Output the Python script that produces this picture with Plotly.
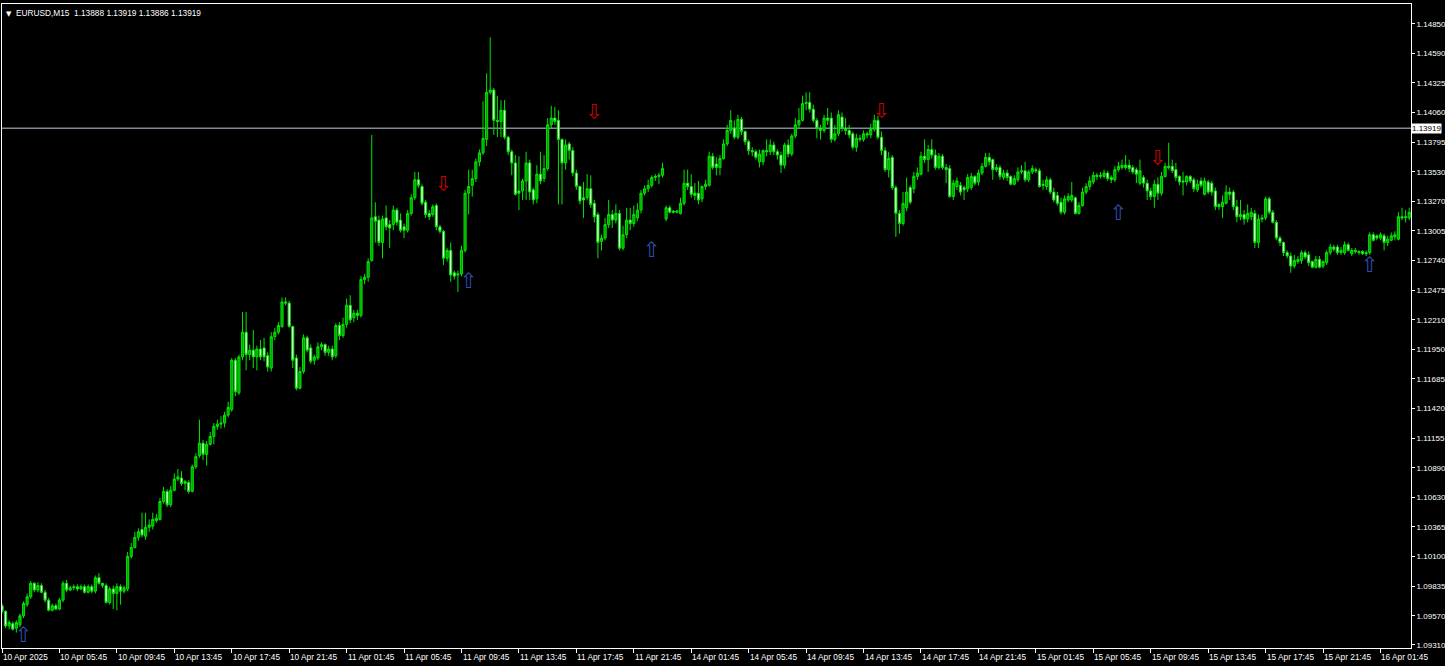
import plotly.graph_objects as go

# ---------------- data (EURUSD M15) ----------------
SYMBOL = "EURUSD,M15"
LAST_BAR = ["1.13888", "1.13919", "1.13886", "1.13919"]
BID = 1.13919

OPEN = [
    1.0966,1.0961,1.0948,1.0950,1.0946,1.0949,1.0957,1.0967,1.0974,1.0986,
    1.0980,1.0984,1.0978,1.0971,1.0962,1.0966,1.0963,1.0971,1.0986,1.0980,
    1.0982,1.0983,1.0981,1.0983,1.0978,1.0983,1.0979,1.0991,1.0986,1.0984,
    1.0969,1.0981,1.0977,1.0983,1.0979,1.0981,1.1010,1.1018,1.1027,1.1034,
    1.1028,1.1036,1.1037,1.1042,1.1043,1.1059,1.1068,1.1056,1.1069,1.1079,
    1.1080,1.1075,1.1076,1.1068,1.1090,1.1100,1.1111,1.1101,1.1110,1.1117,
    1.1126,1.1128,1.1129,1.1136,1.1141,1.1185,1.1156,1.1188,1.1210,1.1190,
    1.1194,1.1188,1.1195,1.1196,1.1189,1.1178,1.1206,1.1210,1.1215,1.1237,
    1.1236,1.1215,1.1187,1.1160,1.1175,1.1205,1.1196,1.1185,1.1187,1.1197,
    1.1199,1.1192,1.1195,1.1189,1.1216,1.1207,1.1217,1.1234,1.1223,1.1227,
    1.1225,1.1257,1.1259,1.1274,1.1313,1.1310,1.1290,1.1312,1.1306,1.1306,
    1.1319,1.1310,1.1304,1.1301,1.1316,1.1330,1.1346,1.1340,1.1326,1.1316,
    1.1315,1.1323,1.1304,1.1300,1.1276,1.1283,1.1263,1.1261,1.1262,1.1283,
    1.1334,1.1341,1.1347,1.1362,1.1370,1.1382,1.1424,1.1426,1.1399,1.1398,
    1.1408,1.1384,1.1371,1.1361,1.1336,1.1336,1.1345,1.1361,1.1337,1.1329,
    1.1351,1.1347,1.1356,1.1395,1.1401,1.1399,1.1382,1.1361,1.1378,1.1372,
    1.1352,1.1340,1.1330,1.1330,1.1338,1.1325,1.1315,1.1291,1.1294,1.1306,
    1.1315,1.1310,1.1316,1.1285,1.1297,1.1310,1.1307,1.1312,1.1319,1.1334,
    1.1338,1.1341,1.1348,1.1349,1.1350,1.1311,1.1321,1.1318,1.1317,1.1316,
    1.1325,1.1343,1.1340,1.1334,1.1334,1.1329,1.1340,1.1341,1.1367,1.1360,
    1.1357,1.1365,1.1378,1.1390,1.1392,1.1384,1.1400,1.1389,1.1380,1.1372,
    1.1371,1.1362,1.1362,1.1372,1.1371,1.1377,1.1371,1.1368,1.1359,1.1377,
    1.1369,1.1385,1.1395,1.1399,1.1414,1.1415,1.1409,1.1399,1.1392,1.1390,
    1.1401,1.1401,1.1382,1.1387,1.1402,1.1392,1.1390,1.1387,1.1375,1.1383,
    1.1382,1.1387,1.1386,1.1391,1.1399,1.1384,1.1372,1.1355,1.1366,1.1339,
    1.1316,1.1307,1.1321,1.1339,1.1338,1.1349,1.1351,1.1367,1.1364,1.1373,
    1.1368,1.1357,1.1367,1.1357,1.1356,1.1331,1.1340,1.1341,1.1339,1.1338,
    1.1339,1.1349,1.1344,1.1352,1.1358,1.1366,1.1364,1.1355,1.1357,1.1348,
    1.1352,1.1349,1.1342,1.1346,1.1353,1.1354,1.1346,1.1353,1.1355,1.1354,
    1.1342,1.1340,1.1346,1.1335,1.1332,1.1326,1.1317,1.1328,1.1328,1.1330,
    1.1316,1.1323,1.1335,1.1340,1.1344,1.1350,1.1349,1.1349,1.1352,1.1348,
    1.1346,1.1355,1.1357,1.1359,1.1359,1.1357,1.1355,1.1343,1.1348,1.1343,
    1.1336,1.1331,1.1342,1.1334,1.1349,1.1358,1.1358,1.1355,1.1349,1.1345,
    1.1344,1.1349,1.1346,1.1337,1.1345,1.1333,1.1344,1.1343,1.1336,1.1324,
    1.1322,1.1325,1.1335,1.1335,1.1322,1.1313,1.1315,1.1311,1.1313,1.1316,
    1.1290,1.1312,1.1312,1.1329,1.1317,1.1308,1.1294,1.1290,1.1281,1.1278,
    1.1269,1.1273,1.1274,1.1281,1.1279,1.1273,1.1268,1.1275,1.1269,1.1272,
    1.1281,1.1286,1.1286,1.1281,1.1281,1.1288,1.1280,1.1283,1.1282,1.1282,
    1.1281,1.1281,1.1297,1.1296,1.1294,1.1296,1.1290,1.1292,1.1295,1.1293,
    1.1313,1.1312,1.1312,
]

HIGH = [
    1.0968,1.0962,1.0953,1.0952,1.0953,1.0959,1.0970,1.0977,1.0988,1.0987,
    1.0987,1.0986,1.0980,1.0973,1.0968,1.0968,1.0973,1.0988,1.0989,1.0984,
    1.0985,1.0985,1.0985,1.0985,1.0985,1.0985,1.0993,1.0995,1.0986,1.0986,
    1.0983,1.0984,1.0986,1.0985,1.0984,1.1014,1.1022,1.1032,1.1035,1.1049,
    1.1049,1.1043,1.1049,1.1048,1.1062,1.1072,1.1070,1.1073,1.1084,1.1088,
    1.1086,1.1078,1.1078,1.1092,1.1102,1.1132,1.1114,1.1113,1.1121,1.1129,
    1.1132,1.1135,1.1139,1.1148,1.1187,1.1187,1.1190,1.1228,1.1228,1.1199,
    1.1212,1.1198,1.1203,1.1205,1.1192,1.1210,1.1214,1.1219,1.1241,1.1241,
    1.1238,1.1216,1.1190,1.1179,1.1208,1.1207,1.1199,1.1190,1.1201,1.1201,
    1.1200,1.1198,1.1198,1.1218,1.1219,1.1223,1.1240,1.1243,1.1230,1.1230,
    1.1260,1.1262,1.1276,1.1386,1.1326,1.1314,1.1314,1.1323,1.1310,1.1323,
    1.1321,1.1316,1.1307,1.1319,1.1333,1.1353,1.1353,1.1342,1.1328,1.1319,
    1.1324,1.1325,1.1306,1.1301,1.1285,1.1290,1.1265,1.1265,1.1287,1.1337,
    1.1355,1.1355,1.1365,1.1373,1.1416,1.1441,1.1473,1.1428,1.1421,1.1417,
    1.1417,1.1385,1.1373,1.1368,1.1367,1.1347,1.1371,1.1364,1.1339,1.1359,
    1.1371,1.1368,1.1401,1.1412,1.1411,1.1408,1.1383,1.1382,1.1380,1.1375,
    1.1355,1.1341,1.1344,1.1351,1.1350,1.1328,1.1317,1.1297,1.1312,1.1328,
    1.1319,1.1324,1.1319,1.1305,1.1321,1.1321,1.1323,1.1325,1.1337,1.1341,
    1.1346,1.1350,1.1351,1.1352,1.1361,1.1323,1.1323,1.1319,1.1319,1.1330,
    1.1355,1.1355,1.1351,1.1343,1.1345,1.1341,1.1346,1.1371,1.1370,1.1366,
    1.1368,1.1382,1.1395,1.1408,1.1399,1.1404,1.1402,1.1390,1.1382,1.1375,
    1.1373,1.1373,1.1373,1.1382,1.1382,1.1380,1.1373,1.1371,1.1379,1.1382,
    1.1387,1.1401,1.1410,1.1421,1.1424,1.1424,1.1413,1.1401,1.1395,1.1404,
    1.1410,1.1406,1.1395,1.1408,1.1406,1.1401,1.1395,1.1389,1.1387,1.1386,
    1.1390,1.1389,1.1396,1.1404,1.1403,1.1389,1.1375,1.1371,1.1368,1.1341,
    1.1319,1.1335,1.1348,1.1341,1.1353,1.1357,1.1371,1.1382,1.1377,1.1382,
    1.1373,1.1370,1.1369,1.1360,1.1359,1.1346,1.1348,1.1344,1.1341,1.1351,
    1.1352,1.1350,1.1355,1.1361,1.1370,1.1370,1.1365,1.1360,1.1359,1.1355,
    1.1355,1.1350,1.1350,1.1357,1.1359,1.1362,1.1355,1.1359,1.1357,1.1356,
    1.1346,1.1349,1.1348,1.1339,1.1335,1.1330,1.1332,1.1334,1.1344,1.1331,
    1.1326,1.1339,1.1343,1.1349,1.1353,1.1352,1.1353,1.1355,1.1354,1.1350,
    1.1358,1.1362,1.1364,1.1368,1.1364,1.1359,1.1357,1.1364,1.1350,1.1346,
    1.1339,1.1346,1.1348,1.1353,1.1361,1.1379,1.1364,1.1361,1.1350,1.1353,
    1.1350,1.1350,1.1348,1.1346,1.1348,1.1348,1.1346,1.1345,1.1339,1.1325,
    1.1332,1.1341,1.1339,1.1337,1.1328,1.1328,1.1319,1.1324,1.1321,1.1319,
    1.1315,1.1315,1.1331,1.1331,1.1319,1.1310,1.1296,1.1291,1.1283,1.1281,
    1.1279,1.1278,1.1283,1.1283,1.1282,1.1274,1.1278,1.1278,1.1274,1.1283,
    1.1289,1.1288,1.1288,1.1286,1.1291,1.1290,1.1285,1.1285,1.1283,1.1283,
    1.1283,1.1299,1.1299,1.1297,1.1299,1.1298,1.1296,1.1299,1.1300,1.1317,
    1.1321,1.1319,1.1321,
]

LOW = [
    1.0959,1.0946,1.0945,1.0944,1.0942,1.0947,1.0955,1.0965,1.0972,1.0978,
    1.0978,1.0977,1.0969,1.0961,1.0961,1.0962,1.0962,1.0969,1.0978,1.0979,
    1.0980,1.0979,1.0980,1.0977,1.0977,1.0977,1.0977,1.0985,1.0982,1.0968,
    1.0967,1.0963,1.0962,1.0967,1.0977,1.0979,1.1008,1.1017,1.1024,1.1027,
    1.1025,1.1032,1.1034,1.1040,1.1042,1.1057,1.1054,1.1054,1.1068,1.1077,
    1.1073,1.1069,1.1066,1.1067,1.1088,1.1098,1.1096,1.1091,1.1109,1.1110,
    1.1123,1.1124,1.1125,1.1134,1.1139,1.1153,1.1154,1.1185,1.1176,1.1185,
    1.1178,1.1176,1.1185,1.1184,1.1175,1.1175,1.1203,1.1208,1.1214,1.1234,
    1.1214,1.1178,1.1158,1.1159,1.1173,1.1192,1.1182,1.1181,1.1185,1.1194,
    1.1189,1.1189,1.1185,1.1187,1.1203,1.1205,1.1214,1.1218,1.1219,1.1221,
    1.1223,1.1253,1.1255,1.1273,1.1290,1.1287,1.1276,1.1301,1.1285,1.1301,
    1.1305,1.1299,1.1294,1.1299,1.1314,1.1328,1.1339,1.1323,1.1312,1.1310,
    1.1313,1.1301,1.1298,1.1270,1.1273,1.1255,1.1257,1.1246,1.1260,1.1281,
    1.1315,1.1331,1.1344,1.1358,1.1368,1.1376,1.1422,1.1386,1.1384,1.1384,
    1.1382,1.1368,1.1350,1.1332,1.1319,1.1328,1.1328,1.1328,1.1324,1.1325,
    1.1342,1.1344,1.1354,1.1392,1.1395,1.1324,1.1324,1.1355,1.1364,1.1349,
    1.1337,1.1324,1.1312,1.1328,1.1321,1.1308,1.1276,1.1283,1.1292,1.1303,
    1.1303,1.1307,1.1283,1.1283,1.1294,1.1301,1.1304,1.1309,1.1316,1.1332,
    1.1335,1.1339,1.1345,1.1342,1.1348,1.1309,1.1316,1.1316,1.1316,1.1315,
    1.1323,1.1337,1.1330,1.1328,1.1324,1.1326,1.1337,1.1340,1.1355,1.1350,
    1.1350,1.1364,1.1376,1.1387,1.1382,1.1382,1.1386,1.1377,1.1368,1.1367,
    1.1364,1.1357,1.1359,1.1367,1.1368,1.1368,1.1364,1.1352,1.1356,1.1366,
    1.1367,1.1383,1.1392,1.1398,1.1408,1.1406,1.1397,1.1383,1.1382,1.1388,
    1.1395,1.1379,1.1380,1.1385,1.1389,1.1386,1.1383,1.1373,1.1371,1.1380,
    1.1380,1.1383,1.1383,1.1389,1.1382,1.1368,1.1353,1.1348,1.1337,1.1295,
    1.1298,1.1305,1.1318,1.1324,1.1334,1.1346,1.1350,1.1361,1.1353,1.1365,
    1.1355,1.1355,1.1355,1.1343,1.1330,1.1328,1.1337,1.1332,1.1328,1.1335,
    1.1337,1.1341,1.1341,1.1350,1.1357,1.1359,1.1346,1.1353,1.1346,1.1346,
    1.1345,1.1341,1.1341,1.1344,1.1351,1.1344,1.1344,1.1351,1.1352,1.1339,
    1.1337,1.1337,1.1333,1.1326,1.1323,1.1315,1.1315,1.1326,1.1326,1.1315,
    1.1315,1.1322,1.1333,1.1337,1.1342,1.1346,1.1347,1.1347,1.1345,1.1343,
    1.1344,1.1353,1.1355,1.1355,1.1353,1.1351,1.1343,1.1341,1.1339,1.1328,
    1.1328,1.1321,1.1328,1.1332,1.1348,1.1355,1.1352,1.1345,1.1341,1.1332,
    1.1341,1.1343,1.1335,1.1335,1.1339,1.1332,1.1333,1.1332,1.1319,1.1319,
    1.1312,1.1324,1.1328,1.1319,1.1308,1.1310,1.1306,1.1308,1.1310,1.1285,
    1.1285,1.1308,1.1310,1.1315,1.1307,1.1292,1.1287,1.1278,1.1276,1.1263,
    1.1267,1.1271,1.1271,1.1275,1.1269,1.1267,1.1267,1.1267,1.1267,1.1270,
    1.1279,1.1282,1.1279,1.1279,1.1279,1.1282,1.1278,1.1280,1.1279,1.1279,
    1.1278,1.1279,1.1291,1.1292,1.1292,1.1283,1.1287,1.1291,1.1292,1.1292,
    1.1310,1.1308,1.1310,
]

CLOSE = [
    1.0961,1.0948,1.0951,1.0945,1.0951,1.0957,1.0968,1.0974,1.0986,1.0980,
    1.0984,1.0978,1.0971,1.0962,1.0966,1.0963,1.0971,1.0986,1.0980,1.0982,
    1.0983,1.0981,1.0983,1.0978,1.0983,1.0979,1.0991,1.0986,1.0984,1.0969,
    1.0981,1.0977,1.0983,1.0979,1.0982,1.1010,1.1018,1.1027,1.1032,1.1029,
    1.1036,1.1038,1.1043,1.1044,1.1059,1.1068,1.1056,1.1069,1.1079,1.1081,
    1.1075,1.1077,1.1068,1.1090,1.1099,1.1111,1.1101,1.1110,1.1117,1.1126,
    1.1128,1.1129,1.1136,1.1143,1.1185,1.1157,1.1188,1.1210,1.1190,1.1194,
    1.1188,1.1195,1.1188,1.1188,1.1179,1.1206,1.1210,1.1216,1.1237,1.1236,
    1.1215,1.1185,1.1160,1.1175,1.1205,1.1194,1.1184,1.1188,1.1197,1.1199,
    1.1192,1.1195,1.1188,1.1216,1.1207,1.1217,1.1234,1.1221,1.1227,1.1225,
    1.1257,1.1259,1.1273,1.1312,1.1309,1.1290,1.1311,1.1304,1.1303,1.1319,
    1.1308,1.1301,1.1301,1.1316,1.1330,1.1346,1.1341,1.1325,1.1315,1.1313,
    1.1322,1.1304,1.1300,1.1276,1.1283,1.1261,1.1260,1.1262,1.1283,1.1334,
    1.1340,1.1347,1.1362,1.1370,1.1383,1.1424,1.1426,1.1399,1.1398,1.1408,
    1.1384,1.1371,1.1361,1.1333,1.1334,1.1345,1.1361,1.1335,1.1328,1.1351,
    1.1345,1.1356,1.1395,1.1401,1.1398,1.1382,1.1361,1.1377,1.1372,1.1352,
    1.1340,1.1327,1.1328,1.1338,1.1324,1.1313,1.1290,1.1294,1.1306,1.1315,
    1.1310,1.1316,1.1285,1.1297,1.1310,1.1307,1.1315,1.1319,1.1334,1.1338,
    1.1341,1.1348,1.1349,1.1350,1.1356,1.1321,1.1317,1.1317,1.1318,1.1325,
    1.1343,1.1340,1.1333,1.1332,1.1328,1.1340,1.1342,1.1367,1.1357,1.1357,
    1.1365,1.1378,1.1390,1.1399,1.1384,1.1400,1.1389,1.1380,1.1372,1.1371,
    1.1366,1.1369,1.1372,1.1371,1.1377,1.1371,1.1368,1.1359,1.1377,1.1369,
    1.1385,1.1395,1.1399,1.1414,1.1415,1.1409,1.1399,1.1392,1.1390,1.1401,
    1.1399,1.1382,1.1387,1.1404,1.1392,1.1390,1.1386,1.1375,1.1383,1.1382,
    1.1387,1.1386,1.1391,1.1399,1.1384,1.1372,1.1355,1.1365,1.1339,1.1316,
    1.1307,1.1325,1.1335,1.1326,1.1349,1.1352,1.1367,1.1364,1.1373,1.1368,
    1.1357,1.1367,1.1357,1.1355,1.1331,1.1343,1.1345,1.1335,1.1337,1.1348,
    1.1349,1.1343,1.1352,1.1358,1.1366,1.1362,1.1355,1.1357,1.1349,1.1352,
    1.1348,1.1342,1.1347,1.1353,1.1354,1.1346,1.1353,1.1356,1.1354,1.1340,
    1.1341,1.1346,1.1335,1.1328,1.1325,1.1317,1.1329,1.1331,1.1332,1.1316,
    1.1323,1.1335,1.1340,1.1345,1.1350,1.1349,1.1350,1.1352,1.1347,1.1346,
    1.1355,1.1358,1.1359,1.1357,1.1356,1.1353,1.1351,1.1354,1.1343,1.1336,
    1.1331,1.1342,1.1334,1.1349,1.1358,1.1357,1.1354,1.1348,1.1344,1.1344,
    1.1349,1.1345,1.1338,1.1342,1.1341,1.1345,1.1335,1.1335,1.1322,1.1322,
    1.1326,1.1335,1.1333,1.1322,1.1313,1.1315,1.1311,1.1316,1.1317,1.1290,
    1.1311,1.1311,1.1329,1.1317,1.1308,1.1294,1.1290,1.1281,1.1278,1.1269,
    1.1274,1.1275,1.1281,1.1277,1.1272,1.1268,1.1275,1.1268,1.1273,1.1281,
    1.1286,1.1284,1.1281,1.1283,1.1288,1.1283,1.1283,1.1282,1.1281,1.1280,
    1.1280,1.1297,1.1292,1.1294,1.1297,1.1290,1.1293,1.1296,1.1297,1.1313,
    1.1312,1.1313,1.1317,
]

# signal arrows (bar index, price)
UP_IDX = [6, 130, 181, 311, 381]
UP_PRICE = [1.0938, 1.1254, 1.1282, 1.1315, 1.1268]
DOWN_IDX = [123, 165, 245, 322]
DOWN_PRICE = [1.1341, 1.1405, 1.1406, 1.1364]

# time axis labels (one every 16 bars)
TIME_LABELS = [
    "10 Apr 2025", "10 Apr 05:45", "10 Apr 09:45", "10 Apr 13:45", "10 Apr 17:45",
    "10 Apr 21:45", "11 Apr 01:45", "11 Apr 05:45", "11 Apr 09:45", "11 Apr 13:45",
    "11 Apr 17:45", "11 Apr 21:45", "14 Apr 01:45", "14 Apr 05:45", "14 Apr 09:45",
    "14 Apr 13:45", "14 Apr 17:45", "14 Apr 21:45", "15 Apr 01:45", "15 Apr 05:45",
    "15 Apr 09:45", "15 Apr 13:45", "15 Apr 17:45", "15 Apr 21:45", "16 Apr 01:45",
]
LABEL_STEP = 16

# price axis labels
PRICE_LABELS = [
    "1.14850", "1.14590", "1.14325", "1.14060", "1.13795", "1.13530", "1.13270",
    "1.13005", "1.12740", "1.12475", "1.12210", "1.11950", "1.11685", "1.11420",
    "1.11155", "1.10890", "1.10630", "1.10365", "1.10100", "1.09835", "1.09570",
    "1.09310",
]
PRICE_RANGE = [1.09283, 1.15028]

# ---------------- figure ----------------
n = len(OPEN)
bars = list(range(n))
tick_idx = [i * LABEL_STEP for i in range(len(TIME_LABELS))]
FONT = "Liberation Sans, Arial, sans-serif"
FS_AXIS = 8
FS_TEXT = 8.3

fig = go.Figure()
fig.add_trace(go.Candlestick(
    x=bars, open=OPEN, high=HIGH, low=LOW, close=CLOSE,
    increasing=dict(line=dict(color="#00e600", width=1), fillcolor="#00a000"),
    decreasing=dict(line=dict(color="#00e600", width=1), fillcolor="#ffffff"),
    whiskerwidth=0, showlegend=False, hoverinfo="skip",
))
fig.add_trace(go.Scatter(
    x=UP_IDX, y=UP_PRICE, mode="text", text=["\u21e7"] * len(UP_IDX),
    textposition="middle center",
    textfont=dict(color="#2f4fb0", size=21, family="DejaVu Sans"),
    showlegend=False, hoverinfo="skip",
))
fig.add_trace(go.Scatter(
    x=DOWN_IDX, y=DOWN_PRICE, mode="text", text=["\u21e9"] * len(DOWN_IDX),
    textposition="middle center",
    textfont=dict(color="#c80000", size=21, family="DejaVu Sans"),
    showlegend=False, hoverinfo="skip",
))

annotations = []
for i, lab in zip(tick_idx, TIME_LABELS):
    annotations.append(dict(
        x=i, y=0, xref="x", yref="paper", text=lab, showarrow=False,
        xanchor="left", yanchor="top", xshift=-1, yshift=-2,
        font=dict(color="white", size=FS_TEXT, family=FONT),
    ))
annotations.append(dict(
    x=0, y=1, xref="paper", yref="paper", text="\u25bc", showarrow=False,
    xanchor="left", yanchor="top", xshift=2, yshift=-4,
    font=dict(color="white", size=7, family="DejaVu Sans"),
))
annotations.append(dict(
    x=0, y=1, xref="paper", yref="paper",
    text=SYMBOL + "\u00a0\u00a0" + " ".join(LAST_BAR), showarrow=False,
    xanchor="left", yanchor="top", xshift=12, yshift=-2,
    font=dict(color="white", size=FS_TEXT, family=FONT),
))
annotations.append(dict(
    x=1, y=BID, xref="paper", yref="y", text=f"{BID:.5f}", showarrow=False,
    xanchor="left", yanchor="middle", xshift=0, bgcolor="white", borderpad=0,
    font=dict(color="black", size=FS_AXIS, family=FONT),
))

fig.update_layout(
    width=1445, height=666,
    margin=dict(l=2, r=34, t=4, b=18),
    paper_bgcolor="black", plot_bgcolor="black",
    boxgap=0.15, showlegend=False,
    annotations=annotations,
    shapes=[dict(type="line", xref="paper", x0=0, x1=1, yref="y", y0=BID, y1=BID,
                 line=dict(color="#7f8a97", width=1.5), layer="below")],
    xaxis=dict(
        range=[0, 392.5], showgrid=False, zeroline=False, automargin=False,
        showline=True, linecolor="white", linewidth=1, mirror=True,
        ticks="outside", ticklen=4, tickcolor="white",
        tickvals=tick_idx, showticklabels=False,
        rangeslider=dict(visible=False), fixedrange=True,
    ),
    yaxis=dict(
        side="right", range=PRICE_RANGE, showgrid=False, zeroline=False,
        automargin=False,
        showline=True, linecolor="white", linewidth=1, mirror=True,
        ticks="outside", ticklen=3, tickcolor="white",
        tickvals=[float(p) for p in PRICE_LABELS], ticktext=PRICE_LABELS,
        tickfont=dict(color="white", size=FS_AXIS, family=FONT), fixedrange=True,
    ),
)

fig.write_html(
    "out.html",
    config={"displayModeBar": False, "staticPlot": True},
    post_script="document.body.style.margin='0';document.body.style.padding='0';"
                "document.body.style.background='black';",
)
